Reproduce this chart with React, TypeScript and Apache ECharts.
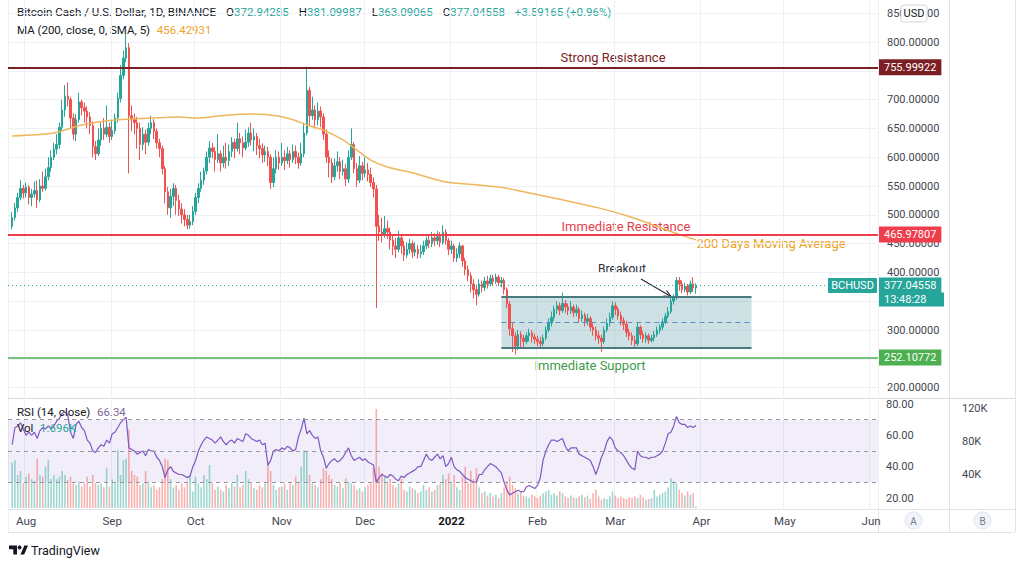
import React, { useEffect, useRef } from 'react';
import * as echarts from 'echarts';

const FONT = 'Roboto, "Noto Sans", sans-serif';
const UP = '#26a69a';
const DOWN = '#ef5350';
const TEXT = '#131722';
const AXIS_TEXT = '#434651';

// Daily categories of the time axis (Jul 26 2021 .. Jun 3 2022)
const axisStartUTC = Date.UTC(2021, 6, 26);
const axisDays = 313;
const firstCandleIndex = 1; // first candle: Jul 27 2021

const monthLabels = ['2022', 'Feb', 'Mar', 'Apr', 'May', 'Jun', 'Jul', 'Aug', 'Sep', 'Oct', 'Nov', 'Dec'];

const firstOpen = 480;
const closes = [
  495, 512, 530, 546, 538, 548, 530, 536, 542, 526,
  550, 546, 566, 582, 600, 614, 622, 652, 682, 706,
  700, 668, 640, 665, 696, 686, 680, 670, 655, 618,
  606, 630, 650, 640, 652, 636, 646, 668, 702, 742,
  772, 790, 672, 665, 660, 650, 622, 640, 626, 650,
  660, 645, 625, 615, 580, 540, 512, 532, 546, 525,
  510, 500, 492, 482, 488, 506, 530, 546, 560, 576,
  600, 616, 610, 596, 606, 590, 600, 594, 610, 626,
  615, 632, 625, 616, 626, 642, 630, 636, 620, 615,
  604, 610, 600, 556, 580, 600, 590, 600, 594, 606,
  596, 610, 600, 590, 606, 642, 716, 672, 682, 665,
  680, 670, 640, 600, 590, 566, 585, 592, 575, 580,
  562, 600, 622, 580, 560, 585, 572, 578, 570, 556,
  545, 480, 470, 466, 476, 470, 456, 446, 440, 460,
  446, 430, 440, 450, 435, 440, 432, 436, 446, 456,
  450, 460, 455, 462, 452, 470, 455, 440, 446, 425,
  432, 446, 420, 405, 394, 380, 370, 362, 380, 374,
  385, 380, 390, 384, 392, 382, 386, 370, 345, 302,
  290, 272, 292, 286, 280, 290, 295, 288, 284, 280,
  276, 286, 300, 312, 322, 336, 342, 334, 346, 340,
  334, 340, 330, 336, 320, 326, 315, 320, 305, 300,
  290, 286, 280, 300, 312, 322, 342, 336, 325, 316,
  310, 296, 290, 282, 276, 305, 292, 285, 290, 282,
  286, 292, 300, 305, 314, 324, 332, 350, 356, 386,
  380, 370, 376, 366, 380, 372.94285, 377.04558,
];
const highs = [
  505, 520, 538, 560, 552, 556, 552, 545, 558, 560,
  562, 575, 580, 600, 612, 625, 640, 660, 700, 725,
  730, 705, 676, 675, 712, 700, 695, 688, 678, 662,
  628, 650, 660, 668, 690, 660, 665, 676, 712, 760,
  785, 815, 798, 690, 676, 670, 660, 652, 648, 660,
  672, 666, 650, 632, 620, 585, 548, 545, 555, 552,
  535, 520, 510, 500, 500, 515, 538, 555, 575, 582,
  610, 628, 625, 618, 640, 612, 620, 625, 622, 635,
  632, 660, 642, 636, 648, 652, 660, 650, 642, 632,
  624, 620, 618, 605, 600, 612, 610, 625, 612, 618,
  612, 622, 620, 608, 625, 660, 757, 722, 705, 690,
  695, 688, 676, 648, 612, 598, 598, 610, 600, 596,
  588, 612, 650, 626, 590, 602, 592, 600, 590, 582,
  565, 552, 500, 495, 498, 490, 478, 465, 460, 472,
  466, 455, 452, 458, 455, 452, 448, 448, 455, 462,
  466, 470, 468, 472, 470, 482, 475, 460, 455, 450,
  442, 452, 448, 425, 412, 400, 388, 378, 388, 386,
  392, 394, 396, 396, 398, 396, 392, 390, 374, 350,
  312, 296, 300, 298, 292, 296, 302, 300, 294, 290,
  288, 292, 306, 320, 332, 342, 350, 348, 365, 352,
  346, 350, 344, 344, 340, 334, 330, 328, 324, 312,
  306, 298, 292, 306, 320, 330, 350, 348, 340, 332,
  322, 316, 302, 296, 290, 312, 308, 298, 296, 294,
  292, 298, 306, 310, 320, 330, 340, 356, 362, 392,
  392, 386, 382, 380, 386, 392, 381.09987,
];
const lows = [
  475, 490, 505, 525, 528, 530, 518, 515, 530, 512,
  522, 540, 542, 560, 575, 595, 605, 615, 645, 670,
  688, 650, 630, 628, 660, 672, 660, 650, 640, 600,
  595, 602, 620, 630, 635, 625, 630, 640, 660, 695,
  735, 765, 572, 645, 640, 615, 595, 612, 605, 620,
  640, 632, 615, 600, 570, 520, 500, 495, 515, 500,
  498, 485, 480, 475, 476, 482, 500, 520, 540, 552,
  570, 590, 598, 575, 590, 575, 582, 580, 585, 600,
  598, 610, 605, 600, 612, 618, 620, 610, 604, 598,
  590, 592, 585, 545, 548, 572, 578, 585, 578, 588,
  582, 590, 588, 580, 585, 600, 638, 655, 665, 650,
  655, 652, 630, 590, 565, 555, 560, 575, 562, 568,
  550, 555, 595, 572, 548, 555, 560, 565, 558, 548,
  530, 338, 455, 452, 460, 458, 440, 430, 425, 435,
  432, 420, 425, 432, 425, 428, 424, 425, 430, 440,
  442, 444, 446, 448, 444, 448, 448, 430, 432, 418,
  418, 425, 410, 395, 385, 365, 355, 343, 358, 365,
  368, 372, 376, 378, 380, 376, 374, 362, 338, 290,
  262, 257, 265, 270, 268, 275, 280, 278, 276, 272,
  270, 272, 282, 296, 306, 316, 328, 326, 330, 330,
  326, 328, 322, 324, 312, 314, 306, 308, 298, 290,
  282, 276, 262, 276, 296, 306, 318, 326, 318, 308,
  300, 288, 282, 274, 268, 272, 284, 278, 278, 276,
  278, 280, 288, 294, 300, 310, 320, 328, 344, 352,
  368, 364, 366, 360, 362, 366, 363.09065,
];
const volumesK = [
  55, 58, 40, 45, 30, 38, 42, 35, 33, 60,
  40, 38, 50, 58, 35, 40, 35, 38, 45, 40,
  34, 38, 30, 28, 32, 26, 30, 38, 26, 40,
  30, 28, 30, 25, 48, 26, 35, 30, 70, 40,
  58, 60, 95, 45, 40, 38, 28, 30, 45, 32,
  25, 28, 22, 25, 35, 60, 58, 35, 25, 28,
  22, 30, 25, 32, 40, 20, 38, 30, 25, 40,
  35, 52, 30, 22, 26, 22, 20, 28, 24, 30,
  26, 40, 25, 28, 45, 35, 30, 24, 22, 28,
  25, 30, 55, 45, 28, 22, 25, 26, 30, 22,
  30, 28, 38, 32, 50, 70, 68, 40, 30, 28,
  25, 35, 48, 45, 40, 35, 28, 26, 30, 24,
  36, 32, 30, 28, 22, 24, 20, 25, 28, 30,
  48, 120, 50, 42, 38, 30, 35, 28, 25, 30,
  35, 22, 20, 26, 24, 22, 18, 20, 28, 22,
  25, 20, 22, 28, 30, 40, 35, 42, 30, 40,
  25, 22, 38, 50, 30, 45, 35, 48, 25, 18,
  20, 15, 18, 14, 16, 12, 18, 25, 32, 38,
  28, 24, 18, 20, 15, 14, 12, 16, 14, 12,
  15, 18, 20, 22, 16, 18, 15, 20, 18, 14,
  12, 15, 13, 12, 14, 16, 13, 15, 11, 18,
  22, 14, 10, 12, 11, 14, 20, 15, 12, 14,
  12, 11, 13, 12, 14, 12, 16, 13, 10, 11,
  12, 22, 14, 16, 18, 20, 25, 36, 32, 30,
  22, 18, 15, 20, 16, 18, 1.696,
];
const rsiValues = [
  54, 65, 66, 68, 64, 60, 62, 60, 62, 58,
  63, 65, 64, 66, 64, 66, 69, 71, 74, 75,
  73, 62, 58, 67, 69, 65, 63, 57, 55, 50,
  49, 52, 54, 53, 57, 55, 61, 62, 65, 68,
  70, 71.5, 52, 51, 50, 48, 49, 50, 47, 51,
  50, 50, 46, 44, 40, 33, 38, 40, 37, 36,
  35, 35, 34, 33, 34, 40, 44, 50, 54, 57,
  59, 58, 57, 55, 57, 59, 56, 54, 56, 57,
  55, 58, 57, 56, 61, 60, 58, 57, 56, 57,
  54, 55, 41, 44, 50, 51, 50, 52, 51, 53,
  52, 50, 51, 59, 64, 71, 61, 63, 60, 58,
  59, 50, 46, 39, 42, 44, 45, 43, 44, 46,
  49, 52, 47, 44, 45, 46, 44, 45, 43, 42,
  41, 30, 33, 35, 34, 33, 35, 34, 32, 31,
  34, 33, 35, 36, 37, 38, 40, 40, 44, 48,
  45, 44, 46, 48, 45, 47, 40, 42, 46, 40,
  38, 37, 35, 33, 32, 31, 30, 30, 35, 35,
  38, 40, 42, 41, 40, 38, 36, 30, 25, 22,
  23, 24, 25, 24, 24, 27, 28, 27, 26, 28,
  33, 44, 50, 54, 57, 57, 56, 57, 58, 53,
  50, 52, 52, 52, 48, 47, 46, 45, 44, 40,
  35, 40, 46, 50, 56, 59, 57, 52, 50, 49,
  47, 44, 41, 39, 38, 50, 47, 46, 46, 45,
  46, 46, 47, 48, 50, 55, 61, 62, 66, 72,
  68, 67, 67, 65, 66, 65, 66.34,
];
// 200-day SMA read at sampled candle positions: [candle number, value]
const maSamples: [number, number][] = [
  [0, 637], [15, 642], [25, 656], [38, 665], [50, 668], [60, 670], [66, 668],
  [77, 673], [86, 675], [95, 672], [101, 665], [106, 656], [112, 647], [119, 630],
  [123, 616], [129, 595], [135, 583], [144, 573], [156, 557], [167, 552], [177, 547],
  [184, 540], [197, 527], [211, 512], [222, 497], [233, 478], [240, 466], [246, 456.42931],
];

const strongResistance = 755.99922;
const immediateResistance = 465.97807;
const immediateSupport = 252.10772;
const lastPrice = 377.04558;
const boxStart = '2022-01-19';
const boxEnd = '2022-04-19';
const boxTop = 357.3;
const boxBottom = 268.75;
const boxMid = 313.0;

const priceTicks = { min: 200, max: 850, step: 50 };
const coveredPriceTicks = [250, 350, 750];
const rsiTicks = { min: 20, max: 80, step: 20 };
const volTicks = { min: 0, max: 133.33, step: 40 };

const categories: string[] = [];
for (let k = 0; k < axisDays; k++) {
  categories.push(new Date(axisStartUTC + k * 86400000).toISOString().slice(0, 10));
}
const isMonthStart = (_: number, v: string) => v.endsWith('-01');
const monthLabel = (v: string) => {
  if (!v.endsWith('-01')) return '';
  const m = parseInt(v.slice(5, 7), 10);
  return m === 1 ? '{b|' + monthLabels[0] + '}' : monthLabels[m - 1];
};

function buildOption() {
  const opens = closes.map((c, i) => (i === 0 ? firstOpen : closes[i - 1]));
  const candleData = closes.map((c, i) => [i + firstCandleIndex, opens[i], c, lows[i], highs[i]]);
  const volData = volumesK.map((v, i) => ({
    value: [i + firstCandleIndex, v],
    itemStyle: { color: closes[i] >= opens[i] ? 'rgba(38,166,154,0.45)' : 'rgba(239,83,80,0.45)' },
  }));
  const rsiData = rsiValues.map((v, i) => [i + firstCandleIndex, v]);
  const maData = maSamples.map(([i, v]) => [i + firstCandleIndex, v]);

  const baseX = (grid: number, extra: any = {}) => ({
    type: 'category', gridIndex: grid, data: categories, boundaryGap: true,
    axisLine: { show: false }, axisTick: { show: false }, axisLabel: { show: false },
    splitLine: { show: false }, ...extra,
  });

  const boxLabel = (val: number, txt: string, bg: string) => ({
    yAxis: val,
    lineStyle: { color: bg, width: 2, type: 'solid' },
    label: {
      show: true, position: 'end', distance: 1, formatter: txt, color: '#fff',
      backgroundColor: bg, padding: [3, 5, 2, 5], fontSize: 11, fontFamily: FONT,
    },
  });

  const hidden = { show: false };

  return {
    animation: false,
    backgroundColor: '#ffffff',
    textStyle: { fontFamily: FONT },
    grid: [
      { left: 8, top: 13.2, width: 870, height: 374.4 },
      { left: 8, top: 404, width: 870, height: 94 },
      { left: 8, top: 398, width: 870, height: 110 },
      { left: 8, top: 0, width: 870, height: 510 },
    ],
    xAxis: [
      baseX(0),
      baseX(1),
      baseX(2, {
        axisLabel: {
          show: true, interval: isMonthStart, formatter: monthLabel, margin: 7,
          color: AXIS_TEXT, fontSize: 11.5, fontFamily: FONT,
          rich: { b: { fontWeight: 'bold', color: TEXT, fontSize: 11.5, fontFamily: FONT } },
        },
      }),
      baseX(3, { splitLine: { show: true, interval: isMonthStart, lineStyle: { color: '#eef0f5', width: 1 } } }),
    ],
    yAxis: [
      {
        type: 'value', gridIndex: 0, position: 'right', min: priceTicks.min, max: priceTicks.max,
        interval: priceTicks.step,
        axisLine: hidden, axisTick: hidden,
        axisLabel: {
          formatter: (v: number) => (coveredPriceTicks.indexOf(v) >= 0 ? '' : v.toFixed(5)),
          margin: 9, color: AXIS_TEXT, fontSize: 11, fontFamily: FONT,
        },
        splitLine: { lineStyle: { color: '#eef0f5' } },
      },
      {
        type: 'value', gridIndex: 1, position: 'right', min: rsiTicks.min, max: rsiTicks.max,
        interval: rsiTicks.step,
        axisLine: hidden, axisTick: hidden, splitLine: hidden,
        axisLabel: { formatter: (v: number) => v.toFixed(2), margin: 8, color: AXIS_TEXT, fontSize: 11, fontFamily: FONT },
      },
      {
        type: 'value', gridIndex: 2, position: 'right', offset: 71, min: volTicks.min, max: volTicks.max,
        interval: volTicks.step,
        axisLine: hidden, axisTick: hidden, splitLine: hidden,
        axisLabel: {
          formatter: (v: number) => (v > 0 && v % 40 === 0 ? v + 'K' : ''),
          margin: 13, color: AXIS_TEXT, fontSize: 11, fontFamily: FONT,
        },
      },
      { type: 'value', gridIndex: 3, min: 0, max: 1, show: false },
    ],
    series: [
      {
        type: 'bar', name: 'Vol', xAxisIndex: 2, yAxisIndex: 2, data: volData, barWidth: 1.6,
        silent: true,
      },
      {
        type: 'line', name: 'RSI', xAxisIndex: 1, yAxisIndex: 1, data: rsiData, showSymbol: false,
        lineStyle: { color: '#7e57c2', width: 1.2 }, silent: true, z: 4,
        markArea: {
          silent: true, itemStyle: { color: 'rgba(126,87,194,0.10)' },
          data: [[{ yAxis: 30 }, { yAxis: 70 }]],
        },
        markLine: {
          silent: true, symbol: ['none', 'none'], label: hidden,
          lineStyle: { color: '#9598a1', type: [4, 4], width: 1 },
          data: [{ yAxis: 70 }, { yAxis: 50 }, { yAxis: 30 }],
        },
      },
      {
        type: 'candlestick', name: 'BCHUSD', xAxisIndex: 0, yAxisIndex: 0, data: candleData,
        encode: { x: 0, y: [1, 2, 3, 4] },
        barWidth: 2,
        itemStyle: { color: UP, color0: DOWN, borderColor: UP, borderColor0: DOWN, borderWidth: 1 },
        markArea: {
          silent: true,
          itemStyle: { color: 'rgba(70,140,155,0.27)' },
          data: [[{ coord: [boxStart, boxTop] }, { coord: [boxEnd, boxBottom] }]],
        },
        markLine: {
          silent: true, symbol: ['none', 'none'], precision: 5,
          data: [
            boxLabel(strongResistance, '755.99922', '#7b1f24'),
            boxLabel(immediateResistance, '465.97807', '#ef3d4c'),
            {
              ...boxLabel(immediateSupport, '252.10772', '#4caf50'),
              lineStyle: { color: '#4caf50', width: 1.5, type: 'solid' },
            },
            {
              ...boxLabel(lastPrice, '377.04558', UP),
              lineStyle: { color: UP, width: 1, type: [1, 3] },
            },
            [
              { coord: [boxStart, boxTop], lineStyle: { color: '#4a7a7e', width: 2, type: 'solid' }, label: hidden },
              { coord: [boxEnd, boxTop] },
            ],
            [
              { coord: [boxStart, boxBottom], lineStyle: { color: '#4a7a7e', width: 2, type: 'solid' }, label: hidden },
              { coord: [boxEnd, boxBottom] },
            ],
            [
              { coord: [boxStart, boxMid], lineStyle: { color: '#5b8fc4', width: 1, type: [5, 4] }, label: hidden },
              { coord: [boxEnd, boxMid] },
            ],
          ],
        },
      },
      {
        type: 'line', name: 'MA', xAxisIndex: 0, yAxisIndex: 0, data: maData, showSymbol: false,
        smooth: 0.3, lineStyle: { color: '#efb65a', width: 1.5 }, silent: true, z: 3,
      },
      { type: 'line', xAxisIndex: 3, yAxisIndex: 3, data: [], silent: true },
    ],
    graphic: {
      elements: [
        // frame lines
        { type: 'line', shape: { x1: 878.5, y1: 0, x2: 878.5, y2: 532 }, style: { stroke: '#e0e3eb', lineWidth: 1 }, silent: true },
        { type: 'line', shape: { x1: 949.5, y1: 0, x2: 949.5, y2: 532 }, style: { stroke: '#e0e3eb', lineWidth: 1 }, silent: true },
        { type: 'line', shape: { x1: 1015.5, y1: 0, x2: 1015.5, y2: 532 }, style: { stroke: '#e0e3eb', lineWidth: 1 }, silent: true },
        { type: 'line', shape: { x1: 8.5, y1: 0, x2: 8.5, y2: 532 }, style: { stroke: '#eef0f5', lineWidth: 1 }, silent: true },
        { type: 'line', shape: { x1: 8, y1: 398.5, x2: 1015, y2: 398.5 }, style: { stroke: '#d8dbe3', lineWidth: 1 }, silent: true },
        { type: 'line', shape: { x1: 8, y1: 509.5, x2: 1015, y2: 509.5 }, style: { stroke: '#e0e3eb', lineWidth: 1 }, silent: true },
        { type: 'line', shape: { x1: 8, y1: 532.5, x2: 1015, y2: 532.5 }, style: { stroke: '#e0e3eb', lineWidth: 1 }, silent: true },
        // legend rows
        {
          type: 'text', x: 17, y: 12, silent: true,
          style: {
            text: '{t|Bitcoin Cash / U.S. Dollar, 1D, BINANCE}   {l|O}{v|372.94285}   {l|H}{v|381.09987}   {l|L}{v|363.09065}   {l|C}{v|377.04558}   {v|+3.59165 (+0.96%)}',
            verticalAlign: 'middle',
            rich: {
              t: { fill: TEXT, fontSize: 11.5, fontFamily: FONT },
              l: { fill: TEXT, fontSize: 11.5, fontFamily: FONT },
              v: { fill: UP, fontSize: 11.5, fontFamily: FONT },
            },
          },
        },
        {
          type: 'text', x: 17, y: 30, silent: true,
          style: {
            text: '{t|MA (200, close, 0, SMA, 5)}  {v|456.42931}', verticalAlign: 'middle',
            rich: {
              t: { fill: TEXT, fontSize: 11.5, fontFamily: FONT },
              v: { fill: '#f0a32a', fontSize: 11.5, fontFamily: FONT },
            },
          },
        },
        {
          type: 'text', x: 17, y: 412, silent: true, z: 100,
          style: {
            text: '{t|RSI (14, close)}  {v|66.34}', verticalAlign: 'middle',
            rich: {
              t: { fill: TEXT, fontSize: 11.5, fontFamily: FONT },
              v: { fill: '#7a6a9c', fontSize: 11.5, fontFamily: FONT },
            },
          },
        },
        {
          type: 'text', x: 17, y: 428, silent: true, z: 100,
          style: {
            text: '{t|Vol}  {v|1.696K}', verticalAlign: 'middle',
            rich: {
              t: { fill: TEXT, fontSize: 11.5, fontFamily: FONT },
              v: { fill: UP, fontSize: 11.5, fontFamily: FONT },
            },
          },
        },
        // annotations
        { type: 'text', x: 613, y: 57, silent: true, style: { text: 'Strong Resistance', fill: '#7b1f24', fontSize: 13, fontFamily: FONT, align: 'center', verticalAlign: 'middle' } },
        { type: 'text', x: 626, y: 226, silent: true, style: { text: 'Immediate Resistance', fill: '#e2404c', fontSize: 13, fontFamily: FONT, align: 'center', verticalAlign: 'middle' } },
        { type: 'text', x: 771, y: 243, silent: true, style: { text: '200 Days Moving Average', fill: '#f0a020', fontSize: 13, fontFamily: FONT, align: 'center', verticalAlign: 'middle' } },
        { type: 'text', x: 590, y: 365, silent: true, style: { text: 'Immediate Support', fill: '#3e9b4a', fontSize: 13, fontFamily: FONT, align: 'center', verticalAlign: 'middle' } },
        { type: 'text', x: 622, y: 269, silent: true, style: { text: 'Breakout', fill: '#2a2e39', fontSize: 12, fontFamily: FONT, align: 'center', verticalAlign: 'middle' } },
        { type: 'line', shape: { x1: 641, y1: 279, x2: 671, y2: 296.5 }, style: { stroke: '#2a2e39', lineWidth: 1.2 }, silent: true },
        { type: 'polyline', shape: { points: [[666.5, 290.5], [671, 296.5], [663.5, 296]] }, style: { stroke: '#2a2e39', lineWidth: 1.2, fill: 'none' }, silent: true },
        // symbol tag on the last price line
        { type: 'rect', shape: { x: 828, y: 278, width: 49, height: 15, r: 1 }, style: { fill: UP }, silent: true, z: 100 },
        { type: 'text', x: 852.5, y: 285.8, silent: true, z: 101, style: { text: 'BCHUSD', fill: '#fff', fontSize: 11, fontFamily: FONT, align: 'center', verticalAlign: 'middle' } },
        { type: 'rect', shape: { x: 879, y: 292.5, width: 65, height: 14 }, style: { fill: UP }, silent: true, z: 100 },
        { type: 'text', x: 884, y: 299.5, silent: true, z: 101, style: { text: '13:48:28', fill: '#fff', fontSize: 11, fontFamily: FONT, verticalAlign: 'middle' } },
        // currency badge
        { type: 'rect', shape: { x: 901, y: 5, width: 26, height: 17, r: 3 }, style: { fill: '#fff', stroke: '#d1d4dc', lineWidth: 1 }, silent: true, z: 100 },
        { type: 'text', x: 914, y: 13.5, silent: true, z: 101, style: { text: 'USD', fill: TEXT, fontSize: 11, fontFamily: FONT, align: 'center', verticalAlign: 'middle' } },
        // scale buttons
        { type: 'circle', shape: { cx: 913.5, cy: 520.5, r: 8.5 }, style: { fill: '#f0f3fa', stroke: '#e0e3eb' }, silent: true },
        { type: 'text', x: 913.5, y: 521, silent: true, style: { text: 'A', fill: '#787b86', fontSize: 10, fontFamily: FONT, align: 'center', verticalAlign: 'middle' } },
        { type: 'circle', shape: { cx: 982.5, cy: 520.5, r: 8.5 }, style: { fill: '#f0f3fa', stroke: '#e0e3eb' }, silent: true },
        { type: 'text', x: 982.5, y: 521, silent: true, style: { text: 'B', fill: '#787b86', fontSize: 10, fontFamily: FONT, align: 'center', verticalAlign: 'middle' } },
        // TradingView logo
        { type: 'polygon', shape: { points: [[9, 545.5], [17, 545.5], [17, 554.5], [13.3, 554.5], [13.3, 549.3], [9, 549.3]] }, style: { fill: TEXT }, silent: true },
        { type: 'circle', shape: { cx: 19.6, cy: 547.5, r: 1.9 }, style: { fill: TEXT }, silent: true },
        { type: 'polygon', shape: { points: [[20.5, 554.5], [24.3, 545.5], [28, 545.5], [24.2, 554.5]] }, style: { fill: TEXT }, silent: true },
        { type: 'text', x: 31, y: 550.5, silent: true, style: { text: 'TradingView', fill: TEXT, fontSize: 12.5, fontFamily: FONT, verticalAlign: 'middle' } },
      ],
    },
  };
}

export default function App() {
  const ref = useRef<HTMLDivElement>(null);
  useEffect(() => {
    if (!ref.current) return;
    const chart = echarts.init(ref.current, undefined, { renderer: 'svg' });
    chart.setOption(buildOption() as any);
    return () => chart.dispose();
  }, []);
  return (
    <div
      ref={ref}
      style={{ position: 'absolute', left: 0, top: 0, width: 1024, height: 567, background: '#ffffff' }}
    />
  );
}
